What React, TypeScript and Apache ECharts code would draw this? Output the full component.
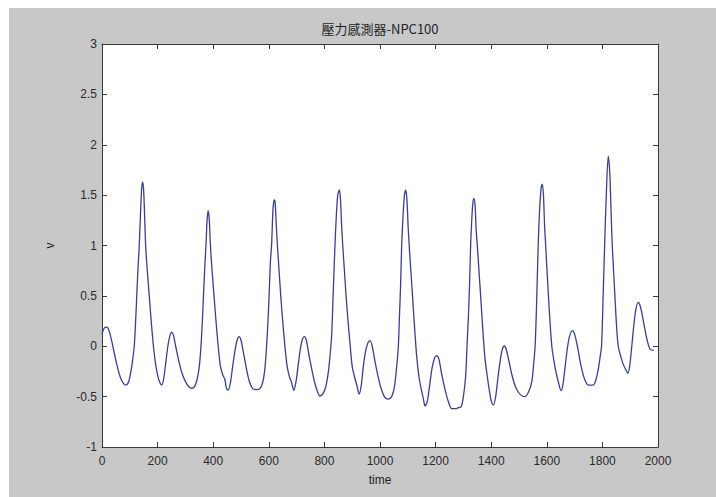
import React, { useEffect, useRef } from "react";
import * as echarts from "echarts";

const chartTitle = "壓力感測器-NPC100";
const xAxisName = "time";
const yAxisName = "v";
const xTicks = [0, 200, 400, 600, 800, 1000, 1200, 1400, 1600, 1800, 2000];
const yTicks = [-1, -0.5, 0, 0.5, 1, 1.5, 2, 2.5, 3];

// [time, v]
const signal: [number, number][] = [
  [0, 0.12], [8, 0.18], [17, 0.19], [26, 0.15], [35, 0.05], [45, -0.08], [55, -0.2], [65, -0.3], [75, -0.36], [86, -0.385],
  [96, -0.35], [104, -0.25], [110, -0.14], [116, 0], [121, 0.25], [125, 0.5], [130, 0.8], [134, 1.0], [139, 1.35], [143, 1.58],
  [146, 1.63], [149, 1.58], [152, 1.4], [157, 1.0], [163, 0.75], [170, 0.5], [177, 0.25], [185, 0], [193, -0.18], [201, -0.3],
  [208, -0.36], [215, -0.385], [222, -0.32], [230, -0.15], [238, 0.02], [245, 0.11], [251, 0.14], [257, 0.11], [265, 0.0], [275, -0.13],
  [287, -0.26], [300, -0.35], [312, -0.4], [323, -0.417], [333, -0.4], [342, -0.33], [350, -0.2], [356, 0], [361, 0.25], [365, 0.5],
  [370, 0.8], [374, 1.0], [378, 1.25], [382, 1.345], [386, 1.25], [390, 1.0], [396, 0.75], [403, 0.5], [410, 0.25], [418, 0],
  [426, -0.2], [434, -0.28], [442, -0.33], [448, -0.42], [454, -0.434], [462, -0.36], [470, -0.2], [478, -0.05], [486, 0.06], [493, 0.095],
  [500, 0.06], [508, -0.05], [518, -0.2], [530, -0.35], [542, -0.42], [556, -0.43], [568, -0.42], [578, -0.36], [586, -0.22], [592, 0],
  [597, 0.25], [601, 0.5], [606, 0.85], [610, 1.0], [614, 1.3], [617, 1.42], [620, 1.452], [623, 1.42], [627, 1.2], [631, 1.0],
  [637, 0.75], [643, 0.5], [650, 0.25], [658, 0], [666, -0.2], [674, -0.3], [682, -0.36], [690, -0.44], [698, -0.35], [706, -0.18],
  [714, -0.02], [721, 0.07], [728, 0.095], [735, 0.06], [744, -0.08], [754, -0.22], [765, -0.36], [775, -0.45], [784, -0.494], [795, -0.47],
  [805, -0.4], [814, -0.26], [820, -0.1], [826, 0.1], [830, 0.4], [834, 0.7], [838, 1.0], [843, 1.3], [848, 1.5], [854, 1.551],
  [858, 1.45], [862, 1.2], [866, 1.0], [872, 0.75], [878, 0.5], [885, 0.25], [893, 0], [900, -0.2], [908, -0.3], [916, -0.38],
  [925, -0.474], [933, -0.38], [940, -0.2], [948, -0.05], [956, 0.03], [964, 0.055], [972, 0.0], [982, -0.15], [993, -0.3], [1005, -0.43],
  [1018, -0.51], [1030, -0.524], [1042, -0.5], [1052, -0.4], [1060, -0.2], [1066, 0], [1070, 0.3], [1074, 0.6], [1078, 1.0], [1083, 1.3],
  [1088, 1.5], [1093, 1.55], [1097, 1.45], [1101, 1.2], [1105, 1.0], [1111, 0.75], [1117, 0.5], [1124, 0.2], [1132, -0.1], [1140, -0.3],
  [1148, -0.42], [1156, -0.52], [1162, -0.593], [1170, -0.55], [1178, -0.4], [1187, -0.22], [1196, -0.12], [1204, -0.094], [1212, -0.13], [1222, -0.28],
  [1234, -0.43], [1246, -0.55], [1258, -0.62], [1270, -0.62], [1282, -0.61], [1292, -0.6], [1300, -0.5], [1308, -0.3], [1313, 0], [1318, 0.3],
  [1322, 0.6], [1326, 1.0], [1330, 1.25], [1334, 1.42], [1338, 1.468], [1342, 1.4], [1346, 1.15], [1350, 1.0], [1356, 0.75], [1362, 0.5],
  [1369, 0.2], [1377, -0.1], [1386, -0.3], [1394, -0.45], [1401, -0.55], [1408, -0.583], [1416, -0.5], [1424, -0.32], [1432, -0.15], [1440, -0.03],
  [1447, 0.0025], [1454, -0.03], [1464, -0.15], [1476, -0.3], [1490, -0.42], [1505, -0.48], [1522, -0.5], [1535, -0.45], [1546, -0.35], [1552, -0.2],
  [1558, 0], [1563, 0.4], [1569, 1.0], [1574, 1.35], [1580, 1.58], [1584, 1.61], [1588, 1.5], [1592, 1.2], [1596, 1.0], [1600, 0.79],
  [1608, 0.4], [1618, 0], [1626, -0.15], [1634, -0.27], [1642, -0.36], [1651, -0.44], [1658, -0.38], [1666, -0.2], [1674, -0.02], [1682, 0.1],
  [1692, 0.155], [1700, 0.12], [1710, 0], [1722, -0.18], [1735, -0.32], [1749, -0.385], [1767, -0.385], [1777, -0.33], [1787, -0.2], [1793, -0.08],
  [1797, 0], [1803, 0.53], [1808, 1.0], [1814, 1.5], [1821, 1.888], [1826, 1.75], [1830, 1.45], [1834, 1.1], [1838, 0.86], [1845, 0.5],
  [1851, 0.2], [1857, 0], [1866, -0.1], [1875, -0.18], [1884, -0.23], [1891, -0.268], [1898, -0.2], [1905, -0.02], [1912, 0.18], [1920, 0.36],
  [1929, 0.436], [1936, 0.4], [1944, 0.3], [1952, 0.18], [1962, 0.05], [1972, -0.03], [1985, -0.04],
];

const PANEL_LEFT = 9;
const PANEL_TOP = 8;
const PANEL_W = 716 - PANEL_LEFT;
const PANEL_H = 497 - PANEL_TOP;

export default function App() {
  const ref = useRef<HTMLDivElement>(null);
  useEffect(() => {
    if (!ref.current) return;
    const chart = echarts.init(ref.current, undefined, { renderer: "svg" });
    const font = "Liberation Sans, Arial, sans-serif";
    const labelStyle = { color: "#2a2a2a", fontSize: 12, fontFamily: font };
    const axisLine = { show: true, onZero: false, lineStyle: { color: "#3a3a3a", width: 1 } };
    const tick = { show: true, inside: true, length: 5, lineStyle: { color: "#3a3a3a" } };
    const gridLeft = 93, gridTop = 36, gridW = 556, gridH = 403;
    const plain = (v: number) => String(v);
    chart.setOption({
      animation: false,
      backgroundColor: "#c8c8c8",
      grid: { left: gridLeft, top: gridTop, width: gridW, height: gridH, show: true, backgroundColor: "#ffffff", borderWidth: 0 },
      xAxis: [
        {
          type: "value", min: 0, max: 2000, interval: 200, position: "bottom",
          axisLine, axisTick: tick, splitLine: { show: false },
          axisLabel: { ...labelStyle, margin: 8, customValues: xTicks, formatter: plain },
        },
        {
          type: "value", min: 0, max: 2000, interval: 200, position: "top",
          axisLine, axisTick: tick, splitLine: { show: false }, axisLabel: { show: false },
        },
      ],
      yAxis: [
        {
          type: "value", min: -1, max: 3, interval: 0.5, position: "left",
          axisLine, axisTick: tick, splitLine: { show: false },
          axisLabel: { ...labelStyle, margin: 5, customValues: yTicks, formatter: plain },
        },
        {
          type: "value", min: -1, max: 3, interval: 0.5, position: "right",
          axisLine, axisTick: tick, splitLine: { show: false }, axisLabel: { show: false },
        },
      ],
      graphic: [
        {
          type: "text", x: gridLeft + gridW / 2, y: 20,
          style: { text: chartTitle, fill: "#222", fontSize: 13, fontFamily: "Noto Sans CJK TC, " + font, align: "center", verticalAlign: "middle" },
        },
        {
          type: "text", x: gridLeft + gridW / 2, y: 472,
          style: { text: xAxisName, fill: "#222", fontSize: 12, fontFamily: font, align: "center", verticalAlign: "middle" },
        },
        {
          type: "text", x: 41, y: gridTop + gridH / 2, rotation: Math.PI / 2,
          style: { text: yAxisName, fill: "#222", fontSize: 12, fontFamily: font, align: "center", verticalAlign: "middle" },
        },
      ],
      series: [
        {
          type: "line", data: signal, xAxisIndex: 0, yAxisIndex: 0,
          showSymbol: false, smooth: 0.3,
          lineStyle: { color: "#3b3b9e", width: 1.3 },
        },
      ],
    });
    return () => chart.dispose();
  }, []);
  return (
    <div style={{ position: "fixed", left: 0, top: 0, width: 716, height: 497, background: "#ffffff" }}>
      <div ref={ref} style={{ position: "absolute", left: PANEL_LEFT, top: PANEL_TOP, width: PANEL_W, height: PANEL_H }} />
    </div>
  );
}
